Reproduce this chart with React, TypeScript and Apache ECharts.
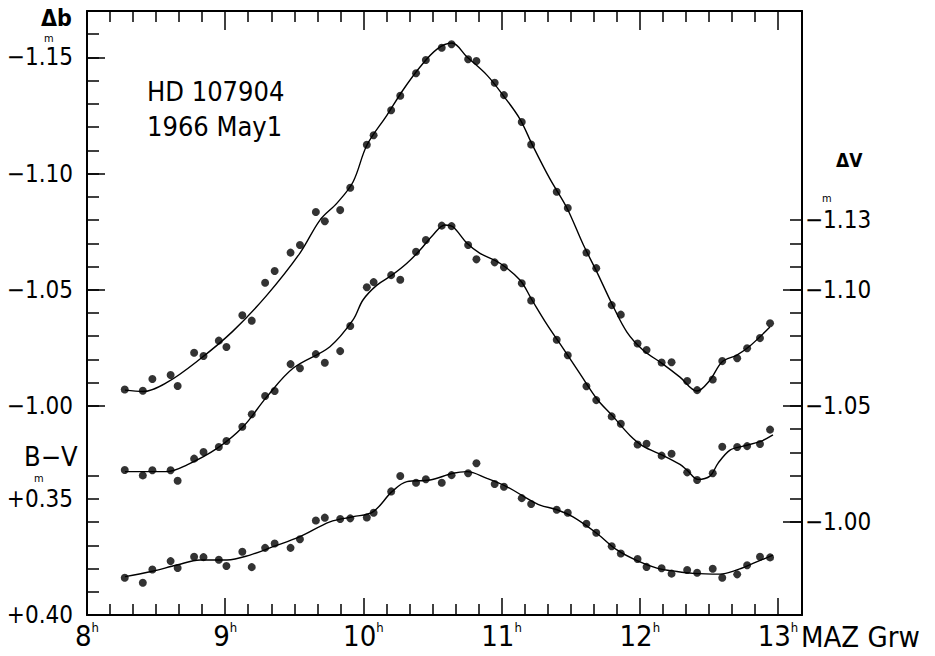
import React, { useEffect, useRef } from 'react';
import * as echarts from 'echarts';

// Observation times (hours, MAZ Greenwich)
const times = [8.273, 8.404, 8.473, 8.605, 8.656, 8.775, 8.843, 8.954, 9.009, 9.124, 9.192, 9.289, 9.358, 9.473, 9.541, 9.656, 9.721, 9.832, 9.905, 10.025, 10.074, 10.201, 10.267, 10.381, 10.452, 10.567, 10.638, 10.758, 10.818, 10.950, 11.017, 11.146, 11.214, 11.399, 11.479, 11.614, 11.685, 11.797, 11.863, 11.984, 12.049, 12.158, 12.230, 12.343, 12.415, 12.528, 12.597, 12.705, 12.777, 12.870, 12.943];

// Δb (left scale)
const deltaB = [-1.0071, -1.0065, -1.0116, -1.0133, -1.0086, -1.0229, -1.0215, -1.0281, -1.0254, -1.0390, -1.0367, -1.0530, -1.0581, -1.0660, -1.0693, -1.0835, -1.0795, -1.0843, -1.0939, -1.1124, -1.1165, -1.1273, -1.1335, -1.1432, -1.1489, -1.1542, -1.1557, -1.1492, -1.1485, -1.1391, -1.1338, -1.1222, -1.1125, -1.0922, -1.0852, -1.0660, -1.0593, -1.0434, -1.0393, -1.0269, -1.0241, -1.0187, -1.0188, -1.0107, -1.0068, -1.0114, -1.0193, -1.0205, -1.0248, -1.0292, -1.0356];

// ΔV (right scale)
const deltaV = [-1.0224, -1.0201, -1.0223, -1.0223, -1.0178, -1.0273, -1.0302, -1.0323, -1.0349, -1.0410, -1.0464, -1.0543, -1.0564, -1.0680, -1.0662, -1.0723, -1.0686, -1.0736, -1.0844, -1.1011, -1.1033, -1.1063, -1.1043, -1.1164, -1.1214, -1.1276, -1.1274, -1.1193, -1.1131, -1.1118, -1.1097, -1.1028, -1.0954, -1.0785, -1.0718, -1.0585, -1.0525, -1.0455, -1.0423, -1.0334, -1.0337, -1.0286, -1.0294, -1.0214, -1.0181, -1.0210, -1.0324, -1.0323, -1.0327, -1.0336, -1.0398];

// B−V (left lower scale)
const bMinusV = [0.3840, 0.3861, 0.3804, 0.3768, 0.3798, 0.3749, 0.3751, 0.3762, 0.3789, 0.3728, 0.3794, 0.3711, 0.3692, 0.3711, 0.3674, 0.3593, 0.3581, 0.3587, 0.3584, 0.3580, 0.3560, 0.3468, 0.3402, 0.3431, 0.3416, 0.3431, 0.3398, 0.3390, 0.3347, 0.3436, 0.3448, 0.3497, 0.3522, 0.3547, 0.3560, 0.3607, 0.3646, 0.3704, 0.3735, 0.3759, 0.3793, 0.3799, 0.3822, 0.3806, 0.3818, 0.3801, 0.3840, 0.3825, 0.3786, 0.3749, 0.3752];

// Hand-drawn fit curves
const fitBTimes = [8.275, 8.405, 8.579, 8.818, 9.056, 9.302, 9.541, 9.686, 9.809, 9.925, 10.026, 10.171, 10.287, 10.410, 10.533, 10.641, 10.750, 10.894, 11.010, 11.133, 11.220, 11.350, 11.473, 11.589, 11.690, 11.799, 11.907, 12.023, 12.168, 12.291, 12.414, 12.508, 12.595, 12.703, 12.797, 12.942];
const fitB = [-1.0068, -1.0062, -1.0101, -1.0202, -1.0322, -1.0477, -1.0658, -1.0800, -1.0873, -1.0964, -1.1123, -1.1252, -1.1360, -1.1459, -1.1536, -1.1562, -1.1502, -1.1424, -1.1338, -1.1235, -1.1127, -1.0977, -1.0852, -1.0697, -1.0576, -1.0439, -1.0318, -1.0241, -1.0180, -1.0124, -1.0064, -1.0111, -1.0189, -1.0219, -1.0258, -1.0340];

const fitVTimes = [8.275, 8.579, 8.724, 8.941, 9.129, 9.302, 9.491, 9.758, 9.925, 9.997, 10.098, 10.207, 10.315, 10.410, 10.504, 10.590, 10.648, 10.750, 10.844, 10.988, 11.133, 11.220, 11.328, 11.444, 11.567, 11.690, 11.806, 11.929, 12.023, 12.168, 12.291, 12.341, 12.421, 12.508, 12.566, 12.653, 12.747, 12.870, 12.964];
const fitV = [-1.0217, -1.0217, -1.0246, -1.0317, -1.0410, -1.0540, -1.0662, -1.0755, -1.0870, -1.0956, -1.1020, -1.1063, -1.1114, -1.1171, -1.1236, -1.1279, -1.1271, -1.1200, -1.1157, -1.1114, -1.1042, -1.0956, -1.0851, -1.0749, -1.0639, -1.0530, -1.0455, -1.0373, -1.0327, -1.0287, -1.0248, -1.0224, -1.0184, -1.0198, -1.0253, -1.0310, -1.0327, -1.0346, -1.0375];

const fitCTimes = [8.275, 8.456, 8.651, 8.818, 9.013, 9.179, 9.346, 9.541, 9.758, 9.925, 10.069, 10.207, 10.315, 10.482, 10.648, 10.750, 10.894, 11.039, 11.184, 11.278, 11.401, 11.517, 11.690, 11.835, 11.980, 12.124, 12.269, 12.385, 12.580, 12.703, 12.819, 12.964];
const fitC = [0.3835, 0.3814, 0.3785, 0.3763, 0.3763, 0.3742, 0.3706, 0.3663, 0.3599, 0.3577, 0.3556, 0.3469, 0.3426, 0.3419, 0.3390, 0.3383, 0.3412, 0.3448, 0.3498, 0.3527, 0.3547, 0.3578, 0.3649, 0.3720, 0.3766, 0.3798, 0.3813, 0.3821, 0.3824, 0.3806, 0.3778, 0.3742];

// Axis ticks and labels
const hourTicks = [8, 9, 10, 11, 12, 13];
const dbTicks = [-1.16, -1.15, -1.14, -1.13, -1.12, -1.11, -1.10, -1.09, -1.08, -1.07, -1.06, -1.05, -1.04, -1.03, -1.02, -1.01, -1.00];
const dbLabels = [-1.15, -1.10, -1.05, -1.00];
const bvTicks = [0.34, 0.35, 0.36, 0.37, 0.38, 0.39, 0.40];
const bvLabels = [0.35, 0.40];
const dvTicks = [-1.13, -1.12, -1.11, -1.10, -1.09, -1.08, -1.07, -1.06, -1.05, -1.04, -1.03, -1.02, -1.01, -1.00];
const dvLabels = [-1.13, -1.10, -1.05, -1.00];
const dvMajor = [-1.10, -1.05, -1.00];

const FONT = '"DejaVu Sans Condensed", "Liberation Sans", sans-serif';
const BLACK = '#000';

const minorHourTicks: number[] = [];
for (let h = 8; h < 13; h++) {
  for (let k = 1; k < 6; k++) minorHourTicks.push(h + k / 6);
}

const zip = (xs: number[], ys: number[]) => xs.map((x, i) => [x, ys[i]]);

export default function App() {
  const ref = useRef<HTMLDivElement>(null);
  useEffect(() => {
    if (!ref.current) return;
    const chart = echarts.init(ref.current, undefined, { renderer: 'svg' });
    const tickLine = { color: BLACK, width: 1.5 };
    const frameLine = { color: BLACK, width: 2 };
    const X_MIN = 8;
    const X_MAX = 13.174;
    const baseX = { type: 'value', min: X_MIN, max: X_MAX, splitLine: { show: false } };
    const hourFmt = (v: number) => `{n|${Math.round(v)}}{h|h}`;
    const yLabel = { fontFamily: FONT, fontSize: 24, color: BLACK };

    const option: any = {
      animation: false,
      backgroundColor: '#fff',
      grid: { left: 87, right: 133, top: 11, bottom: 41, containLabel: false },
      xAxis: [
        {
          ...baseX, position: 'bottom',
          axisLine: { show: true, onZero: false, lineStyle: frameLine },
          axisTick: { show: true, inside: true, length: 11, customValues: minorHourTicks, lineStyle: tickLine },
          axisLabel: { show: false },
        },
        {
          ...baseX, position: 'bottom',
          axisLine: { show: false },
          axisTick: { show: true, inside: true, length: 17, customValues: hourTicks, lineStyle: tickLine },
          axisLabel: {
            show: true, customValues: hourTicks, formatter: hourFmt, margin: 6,
            rich: {
              n: { fontFamily: FONT, fontSize: 29, color: BLACK, lineHeight: 30 },
              h: { fontFamily: FONT, fontSize: 13, color: BLACK, verticalAlign: 'top', lineHeight: 14 },
            },
          },
        },
        {
          ...baseX, position: 'top',
          axisLine: { show: true, onZero: false, lineStyle: frameLine },
          axisTick: { show: true, inside: true, length: 11, customValues: minorHourTicks, lineStyle: tickLine },
          axisLabel: { show: false },
        },
        {
          ...baseX, position: 'top',
          axisLine: { show: false },
          axisTick: { show: true, inside: true, length: 19, customValues: hourTicks, lineStyle: tickLine },
          axisLabel: { show: false },
        },
      ],
      yAxis: [
        {
          type: 'value', position: 'left', min: -1.17, max: -0.91, inverse: true,
          splitLine: { show: false },
          axisLine: { show: true, onZero: false, lineStyle: frameLine },
          axisTick: { show: true, inside: true, length: 12, customValues: dbTicks, lineStyle: tickLine },
          axisLabel: {
            show: true, customValues: dbLabels, margin: 14, ...yLabel,
            formatter: (v: number) => '−' + Math.abs(v).toFixed(2),
          },
        },
        {
          type: 'value', position: 'left', min: -1.17, max: -0.91, inverse: true,
          splitLine: { show: false }, axisLine: { show: false },
          axisTick: { show: true, inside: true, length: 18, customValues: dbLabels, lineStyle: tickLine },
          axisLabel: { show: false },
        },
        {
          type: 'value', position: 'left', min: 0.14, max: 0.40, inverse: true,
          splitLine: { show: false }, axisLine: { show: false },
          axisTick: { show: true, inside: true, length: 12, customValues: bvTicks, lineStyle: tickLine },
          axisLabel: {
            show: true, customValues: bvLabels, margin: 14, ...yLabel,
            formatter: (v: number) => '+' + v.toFixed(2),
          },
        },
        {
          type: 'value', position: 'right', min: -1.22, max: -0.96, inverse: true,
          splitLine: { show: false },
          axisLine: { show: true, onZero: false, lineStyle: frameLine },
          axisTick: { show: true, inside: true, length: 12, customValues: dvTicks, lineStyle: tickLine },
          axisLabel: {
            show: true, customValues: dvLabels, margin: 3, ...yLabel,
            formatter: (v: number) => '−' + Math.abs(v).toFixed(2),
          },
        },
        {
          type: 'value', position: 'right', min: -1.22, max: -0.96, inverse: true,
          splitLine: { show: false }, axisLine: { show: false },
          axisTick: { show: true, inside: true, length: 19, customValues: dvMajor, lineStyle: tickLine },
          axisLabel: { show: false },
        },
      ],
      series: [
        { type: 'line', xAxisIndex: 0, yAxisIndex: 0, data: zip(fitBTimes, fitB), smooth: 0.35, showSymbol: false, symbol: 'none', lineStyle: { color: BLACK, width: 1.4 }, z: 2 },
        { type: 'line', xAxisIndex: 0, yAxisIndex: 3, data: zip(fitVTimes, fitV), smooth: 0.35, showSymbol: false, symbol: 'none', lineStyle: { color: BLACK, width: 1.4 }, z: 2 },
        { type: 'line', xAxisIndex: 0, yAxisIndex: 2, data: zip(fitCTimes, fitC), smooth: 0.35, showSymbol: false, symbol: 'none', lineStyle: { color: BLACK, width: 1.4 }, z: 2 },
        { type: 'scatter', xAxisIndex: 0, yAxisIndex: 0, data: zip(times, deltaB), symbolSize: 8, itemStyle: { color: BLACK }, z: 3 },
        { type: 'scatter', xAxisIndex: 0, yAxisIndex: 3, data: zip(times, deltaV), symbolSize: 8, itemStyle: { color: BLACK }, z: 3 },
        { type: 'scatter', xAxisIndex: 0, yAxisIndex: 2, data: zip(times, bMinusV), symbolSize: 8, itemStyle: { color: BLACK }, z: 3 },
      ],
      graphic: [
        { type: 'text', left: 41, top: 6, style: { text: 'Δb', font: `bold 23px ${FONT}`, fill: BLACK } },
        { type: 'text', left: 44, top: 33, style: { text: 'm', font: `11px ${FONT}`, fill: BLACK } },
        { type: 'text', left: 24, top: 443, style: { text: 'B−V', font: `27px ${FONT}`, fill: BLACK } },
        { type: 'text', left: 34, top: 473, style: { text: 'm', font: `11px ${FONT}`, fill: BLACK } },
        { type: 'text', left: 836, top: 150, style: { text: 'ΔV', font: `bold 19px ${FONT}`, fill: BLACK } },
        { type: 'text', left: 822, top: 193, style: { text: 'm', font: `11px ${FONT}`, fill: BLACK } },
        { type: 'text', left: 147, top: 78, style: { text: 'HD 107904', font: `27px ${FONT}`, fill: BLACK } },
        { type: 'text', left: 147, top: 113, style: { text: '1966 May1', font: `27px ${FONT}`, fill: BLACK } },
        { type: 'text', left: 801, top: 622, style: { text: 'MAZ Grw', font: `29px ${FONT}`, fill: BLACK } },
      ],
    };
    chart.setOption(option);
    return () => chart.dispose();
  }, []);
  return <div ref={ref} style={{ width: 935, height: 656, position: 'absolute', left: 0, top: 0 }} />;
}
